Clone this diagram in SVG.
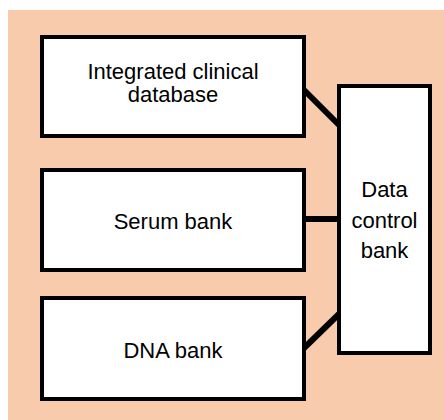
<svg xmlns="http://www.w3.org/2000/svg" width="444" height="420" viewBox="0 0 444 420">
  <style>
    .box { fill: #ffffff; stroke: #000000; stroke-width: 4; }
    .label { font-family: "Liberation Sans", Arial, sans-serif; font-size: 22px; fill: #000000; text-anchor: middle; }
    .link { stroke: #000000; stroke-width: 6; fill: none; }
  </style>
  <rect width="444" height="420" fill="#ffffff"/>
  <rect x="8" y="10" width="436" height="410" fill="#f7cbac"/>

  <g id="connectors">
    <line class="link" x1="302" y1="88" x2="339" y2="125"/>
    <line class="link" x1="302" y1="219" x2="339" y2="219"/>
    <line class="link" x1="302" y1="350" x2="339" y2="314"/>
  </g>

  <g id="clinical-db">
    <rect class="box" x="42" y="37" width="262" height="99"/>
    <text class="label" x="173" y="79">Integrated clinical</text>
    <text class="label" x="173" y="102">database</text>
  </g>

  <g id="serum-bank">
    <rect class="box" x="42" y="170" width="262" height="100"/>
    <text class="label" x="173" y="229">Serum bank</text>
  </g>

  <g id="dna-bank">
    <rect class="box" x="42" y="298" width="262" height="101"/>
    <text class="label" x="173" y="358">DNA bank</text>
  </g>

  <g id="data-control-bank">
    <rect class="box" x="339" y="86" width="91" height="267"/>
    <text class="label" x="384.5" y="197">Data</text>
    <text class="label" x="384.5" y="228">control</text>
    <text class="label" x="384.5" y="258">bank</text>
  </g>
</svg>
